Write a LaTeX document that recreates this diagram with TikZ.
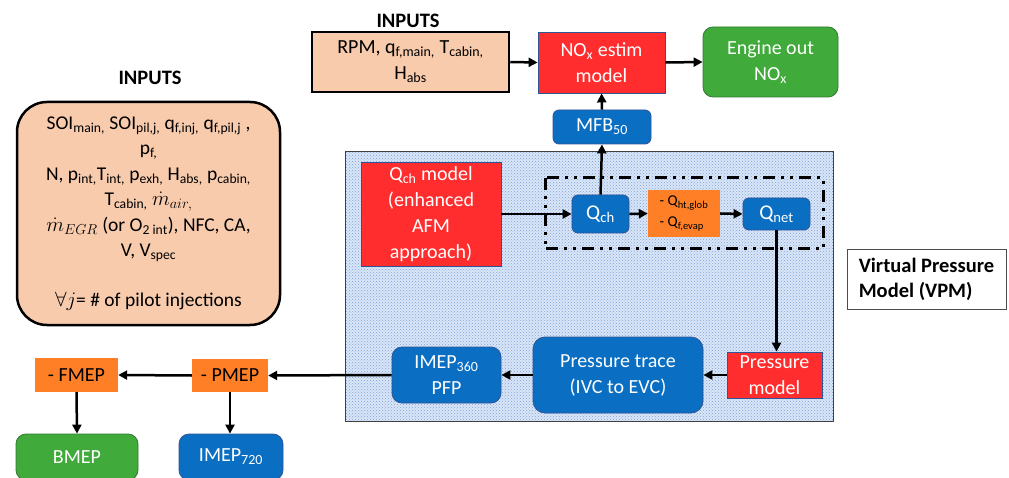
\documentclass[tikz,border=0pt]{standalone}
\usepackage{fontspec}
\setmainfont{Carlito}
\usetikzlibrary{arrows.meta,patterns}
\newcommand\sbs[1]{\textsubscript{#1}}
\definecolor{peach}{RGB}{248,203,173}
\definecolor{myred}{RGB}{255,45,45}
\definecolor{mygreen}{RGB}{64,170,58}
\definecolor{myblue}{RGB}{10,111,194}
\definecolor{myorange}{RGB}{255,127,39}
\definecolor{edgeblue}{RGB}{47,85,151}
\definecolor{edgegreen}{RGB}{50,120,50}
\definecolor{shadebg}{RGB}{218,230,247}
\definecolor{shadedot}{RGB}{125,165,220}
\begin{document}
\begin{tikzpicture}[x=1pt,y=-1pt,
  txt/.style={font=\fontsize{20}{26}\selectfont, align=center, inner sep=0pt},
  peachbox/.style={txt, fill=peach, draw=black, line width=2.5pt},
  redbox/.style={txt, fill=myred, draw=edgeblue, line width=0.8pt, text=white},
  bluebox/.style={txt, fill=myblue, draw=edgeblue, line width=0.8pt, text=white, rounded corners=7pt},
  greenbox/.style={txt, fill=mygreen, draw=edgegreen, line width=0.8pt, text=white, rounded corners=10pt},
  orbox/.style={txt, fill=myorange, draw=none, text=black},
  arr/.style={line width=2.5pt, -{Triangle[length=9pt,width=9pt]}},
  head/.style={font=\fontsize{20.5}{24}\selectfont\bfseries},
  ]
\useasboundingbox (0,0) rectangle (1009,478);
% shaded VPM region
\fill[shadebg] (345,152) rectangle (833,421);
\fill[pattern=crosshatch dots, pattern color=shadedot] (345,152) rectangle (833,421);
\draw[line width=1pt, draw=black!75] (345,152) rectangle (833,421);
% dash-dot rectangle
\draw[line width=3pt, dash pattern=on 12pt off 6pt on 3pt off 6pt on 3pt off 6pt] (545,178) rectangle (823,249);

% left inputs
\node[head] (inLt) at (150,78) {INPUTS};
\node[peachbox, rounded corners=30pt, minimum width=263pt, minimum height=223pt] (inL) at (148.5,213.5) {};
\node[txt, font=\fontsize{19.5}{25.5}\selectfont] (inLtext) at (inL.center) {SOI\sbs{main,} SOI\sbs{pil,j,} q\sbs{f,inj,} q\sbs{f,pil,j} ,\\
p\sbs{f,}\\
N, p\sbs{int,}T\sbs{int,} p\sbs{exh,} H\sbs{abs,} p\sbs{cabin,}\\
T\sbs{cabin,} $\dot{m}_{air,}$\\
$\dot{m}_{EGR}$ (or O\sbs{2 int}), NFC, CA,\\
V, V\sbs{spec}\\[24pt]
$\forall j$= \# of pilot injections};

% top row
\node[head] (inTt) at (408,21) {INPUTS};
\node[peachbox, minimum width=197pt, minimum height=60pt] (rpm) at (410.5,62) {RPM, q\sbs{f,main,} T\sbs{cabin,}\\H\sbs{abs}};
\node[redbox, minimum width=127pt, minimum height=61pt] (nox) at (601.5,62.5) {NO\sbs{x} estim\\model};
\node[greenbox, minimum width=135pt, minimum height=70pt] (eng) at (770.5,62) {Engine out\\NO\sbs{x}};
\node[bluebox, rounded corners=6pt, minimum width=98pt, minimum height=34pt] (mfb) at (602,127) {MFB\sbs{50}};

% inside VPM
\node[redbox, minimum width=140pt, minimum height=104pt] (qcm) at (431,214) {Q\sbs{ch} model\\(enhanced\\AFM\\approach)};
\node[bluebox, rounded corners=6pt, minimum width=57pt, minimum height=38pt, font=\fontsize{21}{26}\selectfont] (qch) at (600.5,214) {Q\sbs{ch}};
\node[orbox, minimum width=72pt, minimum height=47pt, font=\fontsize{15}{21}\selectfont, align=left] (ora) at (684,213.5) {- Q\sbs{ht,glob}\\- Q\sbs{f,evap}};
\node[bluebox, rounded corners=6pt, minimum width=67pt, minimum height=32pt, font=\fontsize{21}{26}\selectfont] (qnet) at (776.5,214) {Q\sbs{net}};
\node[redbox, minimum width=95pt, minimum height=46pt] (pm) at (774.5,375) {Pressure\\model};
\node[bluebox, rounded corners=12pt, minimum width=170pt, minimum height=76pt] (pt) at (618,375) {Pressure trace\\(IVC to EVC)};
\node[bluebox, rounded corners=10pt, minimum width=109pt, minimum height=56pt] (imep) at (446.5,375) {IMEP\sbs{360}\\PFP};

% bottom left
\node[orbox, minimum width=76pt, minimum height=33pt] (pmep) at (230,375.5) {- PMEP};
\node[orbox, minimum width=83pt, minimum height=34pt] (fmep) at (76.5,375) {- FMEP};
\node[greenbox, minimum width=122pt, minimum height=46pt] (bmep) at (77,457) {BMEP};
\node[bluebox, rounded corners=10pt, minimum width=104pt, minimum height=46pt] (imep720) at (231,457) {IMEP\sbs{720}};

% VPM label
\node[draw=black!70, line width=0.8pt, fill=white, minimum width=159pt, minimum height=60pt, align=left, font=\fontsize{20.5}{25}\selectfont\bfseries, inner xsep=10pt] (vpm) at (926.5,279) {Virtual Pressure\\Model (VPM)};

% connectors
\draw[arr] (rpm.east) -- (nox.west);
\draw[arr] (nox.east) -- (eng.west);
\draw[arr] (mfb.north) -- (nox.south);
\draw[arr] (qch.north) -- (mfb.south);
\draw[arr] (qcm.east) -- (qch.west);
\draw[arr] (qch.east) -- (ora.west);
\draw[arr] (ora.east) -- (qnet.west);
\draw[arr] (qnet.south) -- (qnet.south |- pm.north);
\draw[arr] (pm.west) -- (pt.east);
\draw[arr] (pt.west) -- (imep.east);
\draw[arr] (imep.west) -- (pmep.east);
\draw[arr] (pmep.west) -- (fmep.east);
\draw[arr] (fmep.south) -- (bmep.north);
\draw[arr] (pmep.south) -- (pmep.south |- imep720.north);
\end{tikzpicture}
\end{document}
